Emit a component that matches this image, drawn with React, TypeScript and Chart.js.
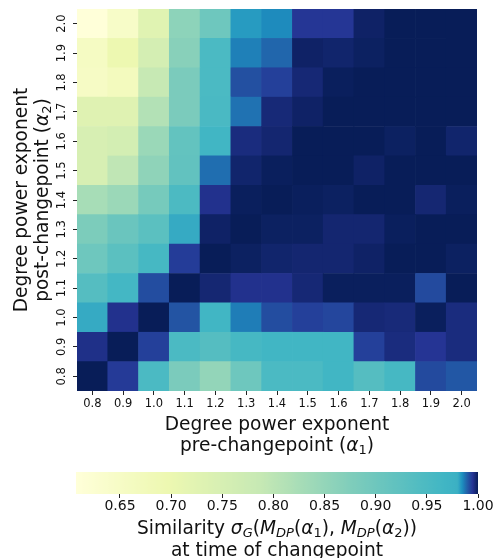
import React, { useEffect, useRef } from "react";
import { Chart, registerables } from "chart.js";

Chart.register(...registerables);

// ---------- data ----------
const alpha1Labels = ["0.8", "0.9", "1.0", "1.1", "1.2", "1.3", "1.4", "1.5", "1.6", "1.7", "1.8", "1.9", "2.0"];
// rows from top (alpha2 = 2.0) to bottom (alpha2 = 0.8)
const alpha2Labels = ["2.0", "1.9", "1.8", "1.7", "1.6", "1.5", "1.4", "1.3", "1.2", "1.1", "1.0", "0.9", "0.8"];

const simA2_20 = [0.607, 0.646, 0.727, 0.858, 0.901, 0.9829, 0.985, 0.9946, 0.9946, 0.9988, 1.0, 1.0, 1.0];
const simA2_19 = [0.657, 0.697, 0.755, 0.865, 0.951, 0.9861, 0.9888, 0.9988, 0.9983, 0.9992, 1.0, 1.0, 1.0];
const simA2_18 = [0.652, 0.667, 0.786, 0.882, 0.951, 0.9913, 0.9933, 0.9975, 0.9996, 1.0, 1.0, 1.0, 1.0];
const simA2_17 = [0.73, 0.73, 0.811, 0.882, 0.953, 0.9875, 0.9973, 0.9988, 1.0, 1.0, 1.0, 1.0, 1.0];
const simA2_16 = [0.748, 0.758, 0.842, 0.916, 0.966, 0.9967, 0.9979, 1.0, 1.0, 1.0, 0.9992, 1.0, 0.9983];
const simA2_15 = [0.748, 0.795, 0.856, 0.918, 0.9879, 0.9983, 0.9996, 1.0, 1.0, 0.9988, 1.0, 1.0, 1.0];
const simA2_14 = [0.826, 0.841, 0.889, 0.95, 0.9954, 0.9996, 1.0, 0.9996, 0.9992, 1.0, 1.0, 0.9977, 0.9996];
const simA2_13 = [0.88, 0.906, 0.928, 0.9808, 0.9988, 1.0, 0.9992, 0.9992, 0.9979, 0.9979, 0.9996, 1.0, 1.0];
const simA2_12 = [0.901, 0.928, 0.958, 0.9938, 1.0, 0.9992, 0.9983, 0.9979, 0.9979, 0.9988, 1.0, 1.0, 0.9992];
const simA2_11 = [0.937, 0.962, 0.9917, 1.0, 0.9977, 0.9954, 0.9954, 0.9975, 0.9996, 0.9996, 0.9996, 0.9921, 1.0];
const simA2_10 = [0.9808, 0.9954, 1.0, 0.9908, 0.966, 0.9864, 0.9917, 0.9933, 0.9925, 0.9975, 0.9971, 0.9996, 0.9967];
const simA2_09 = [0.9958, 1.0, 0.9933, 0.951, 0.937, 0.958, 0.966, 0.966, 0.966, 0.9933, 0.9967, 0.9948, 0.9967];
const simA2_08 = [1.0, 0.994, 0.951, 0.882, 0.851, 0.901, 0.951, 0.951, 0.966, 0.937, 0.958, 0.9921, 0.9904];

const similarity = [
  simA2_20, simA2_19, simA2_18, simA2_17, simA2_16, simA2_15, simA2_14,
  simA2_13, simA2_12, simA2_11, simA2_10, simA2_09, simA2_08,
];

const colorbarTicks = [0.65, 0.7, 0.75, 0.8, 0.85, 0.9, 0.95, 1.0];
const colorMin = 0.607;
const colorMax = 1.0;

// ---------- colour map (YlGnBu, compressed norm near 1) ----------
const YLGNBU = ["#ffffd9", "#edf8b1", "#c7e9b4", "#7fcdbb", "#41b6c4", "#1d91c0", "#225ea8", "#253494", "#081d58"];
const KNEE_V = 0.98;
const KNEE_T = 0.52;

function hexToRgb(h: string) {
  return [parseInt(h.slice(1, 3), 16), parseInt(h.slice(3, 5), 16), parseInt(h.slice(5, 7), 16)];
}
const YLGNBU_RGB = YLGNBU.map(hexToRgb);

function normT(v: number) {
  let t;
  if (v <= KNEE_V) t = (KNEE_T * (v - colorMin)) / (KNEE_V - colorMin);
  else t = KNEE_T + ((1 - KNEE_T) * (v - KNEE_V)) / (colorMax - KNEE_V);
  return Math.max(0, Math.min(1, t));
}

function colorFor(v: number) {
  const t = normT(v) * (YLGNBU_RGB.length - 1);
  const i = Math.min(Math.floor(t), YLGNBU_RGB.length - 2);
  const f = t - i;
  const a = YLGNBU_RGB[i];
  const b = YLGNBU_RGB[i + 1];
  const c = a.map((x, k) => Math.round(x + (b[k] - x) * f));
  return `rgb(${c[0]},${c[1]},${c[2]})`;
}

// ---------- rich text helper ----------
type Seg = { t: string; it?: boolean; sub?: boolean };
const FONT = '"DejaVu Sans"';
const TEXT_COLOR = "#111";

function segFont(s: Seg, size: number) {
  const sz = s.sub ? size * 0.7 : size;
  return `${s.it ? "italic " : ""}${sz}px ${FONT}`;
}

function drawRich(ctx: CanvasRenderingContext2D, segs: Seg[], size: number, cx: number, cy: number, rotate: boolean) {
  ctx.save();
  ctx.translate(cx, cy);
  if (rotate) ctx.rotate(-Math.PI / 2);
  ctx.fillStyle = TEXT_COLOR;
  ctx.textBaseline = "alphabetic";
  ctx.textAlign = "left";
  let total = 0;
  const widths = segs.map((s) => {
    ctx.font = segFont(s, size);
    const w = ctx.measureText(s.t).width;
    total += w;
    return w;
  });
  let x = -total / 2;
  segs.forEach((s, i) => {
    ctx.font = segFont(s, size);
    ctx.fillText(s.t, x, s.sub ? size * 0.17 : 0);
    x += widths[i];
  });
  ctx.restore();
}

const TITLE_SIZE = 18.6;
const xTitle1: Seg[] = [{ t: "Degree power exponent" }];
const xTitle2: Seg[] = [{ t: "pre-changepoint (" }, { t: "α", it: true }, { t: "1", sub: true }, { t: ")" }];
const yTitle1: Seg[] = [{ t: "Degree power exponent" }];
const yTitle2: Seg[] = [{ t: "post-changepoint (" }, { t: "α", it: true }, { t: "2", sub: true }, { t: ")" }];
const cbTitle1: Seg[] = [
  { t: "Similarity " },
  { t: "σ", it: true },
  { t: "G", it: true, sub: true },
  { t: "(" },
  { t: "M", it: true },
  { t: "DP", it: true, sub: true },
  { t: "(" },
  { t: "α", it: true },
  { t: "1", sub: true },
  { t: "), " },
  { t: "M", it: true },
  { t: "DP", it: true, sub: true },
  { t: "(" },
  { t: "α", it: true },
  { t: "2", sub: true },
  { t: "))" },
];
const cbTitle2: Seg[] = [{ t: "at time of changepoint" }];

const heatTitles = {
  id: "heatTitles",
  afterDraw(chart: any) {
    const { ctx, chartArea } = chart;
    const cx = (chartArea.left + chartArea.right) / 2;
    const cy = (chartArea.top + chartArea.bottom) / 2;
    drawRich(ctx, xTitle1, TITLE_SIZE, cx, chartArea.bottom + 39, false);
    drawRich(ctx, xTitle2, TITLE_SIZE, cx, chartArea.bottom + 60, false);
    drawRich(ctx, yTitle1, TITLE_SIZE, 26.5, cy, true);
    drawRich(ctx, yTitle2, TITLE_SIZE, 48, cy, true);
  },
};

const cbTitles = {
  id: "cbTitles",
  afterDraw(chart: any) {
    const { ctx, chartArea } = chart;
    const cx = (chartArea.left + chartArea.right) / 2;
    drawRich(ctx, cbTitle1, TITLE_SIZE, cx, chartArea.bottom + 39.5, false);
    drawRich(ctx, cbTitle2, TITLE_SIZE, cx, chartArea.bottom + 61.5, false);
  },
};

const tickGrid = {
  display: true,
  drawOnChartArea: false,
  drawTicks: true,
  tickLength: 4,
  tickColor: "#222",
  tickWidth: 1,
  color: "#222",
};

export default function App() {
  const heatRef = useRef<HTMLCanvasElement>(null);
  const cbRef = useRef<HTMLCanvasElement>(null);

  useEffect(() => {
    const n = alpha2Labels.length;
    const datasets = alpha2Labels
      .map((lab, i) => ({
        label: lab,
        data: similarity[i].map(() => 1),
        backgroundColor: similarity[i].map(colorFor),
        borderWidth: 0,
        barPercentage: 1,
        categoryPercentage: 1,
      }))
      .reverse();

    const heat = new Chart(heatRef.current!, {
      type: "bar",
      data: { labels: alpha1Labels, datasets },
      plugins: [heatTitles],
      options: {
        animation: false,
        responsive: false,
        devicePixelRatio: 1,
        events: [],
        layout: { padding: { top: 9, right: 16, left: 0, bottom: 0 } },
        plugins: { legend: { display: false }, tooltip: { enabled: false } },
        scales: {
          x: {
            stacked: true,
            offset: true,
            grid: { ...tickGrid, offset: false },
            border: { display: false },
            ticks: {
              autoSkip: false,
              maxRotation: 0,
              minRotation: 0,
              padding: 2,
              color: TEXT_COLOR,
              font: { family: FONT, size: 11.5 },
            },
            afterFit: (s: any) => {
              s.height = 69;
              s.paddingLeft = 0;
              s.paddingRight = 0;
            },
          },
          y: {
            type: "linear",
            stacked: true,
            min: 0,
            max: n,
            afterBuildTicks: (s: any) => {
              s.ticks = alpha2Labels.map((_, i) => ({ value: n - 1 - i + 0.5 }));
            },
            grid: tickGrid,
            border: { display: false },
            ticks: {
              minRotation: 90,
              maxRotation: 90,
              crossAlign: "center",
              padding: 2.3,
              color: TEXT_COLOR,
              font: { family: FONT, size: 11.5 },
              callback: (v: any) => alpha2Labels[n - 1 - Math.floor(Number(v))],
            },
            afterFit: (s: any) => {
              s.width = 77;
              s.paddingTop = 0;
              s.paddingBottom = 0;
            },
          },
        },
      } as any,
    });

    const cb = new Chart(cbRef.current!, {
      type: "bar",
      data: {
        labels: [""],
        datasets: [
          {
            data: [[colorMin, colorMax]] as any,
            borderWidth: 0,
            barPercentage: 1,
            categoryPercentage: 1,
            backgroundColor: (ctx: any) => {
              const chart = ctx.chart;
              const xs = chart.scales && chart.scales.x;
              if (!chart.chartArea || !xs) return colorFor(colorMax);
              const x0 = xs.getPixelForValue(colorMin);
              const x1 = xs.getPixelForValue(colorMax);
              const g = chart.ctx.createLinearGradient(x0, 0, x1, 0);
              const steps = 300;
              for (let k = 0; k <= steps; k++) {
                const v = colorMin + ((colorMax - colorMin) * k) / steps;
                g.addColorStop(k / steps, colorFor(v));
              }
              return g;
            },
          },
        ],
      },
      plugins: [cbTitles],
      options: {
        animation: false,
        responsive: false,
        devicePixelRatio: 1,
        events: [],
        indexAxis: "y",
        layout: { padding: { top: 12, right: 15, left: 76, bottom: 0 } },
        plugins: { legend: { display: false }, tooltip: { enabled: false } },
        scales: {
          y: { display: false },
          x: {
            type: "linear",
            min: colorMin,
            max: colorMax,
            afterBuildTicks: (s: any) => {
              s.ticks = colorbarTicks.map((v) => ({ value: v }));
            },
            grid: tickGrid,
            border: { display: false },
            ticks: {
              padding: 0,
              color: TEXT_COLOR,
              font: { family: FONT, size: 14 },
              callback: (v: any) => Number(v).toFixed(2),
            },
            afterFit: (s: any) => {
              s.height = 64;
              s.paddingLeft = 0;
              s.paddingRight = 0;
            },
          },
        },
      } as any,
    });

    return () => {
      heat.destroy();
      cb.destroy();
    };
  }, []);

  return (
    <div style={{ position: "fixed", left: 0, top: 0, width: 493, height: 558, background: "#fff" }}>
      <canvas ref={heatRef} width={493} height={460} style={{ position: "absolute", left: 0, top: 0, display: "block" }} />
      <canvas ref={cbRef} width={493} height={98} style={{ position: "absolute", left: 0, top: 460, display: "block" }} />
    </div>
  );
}
